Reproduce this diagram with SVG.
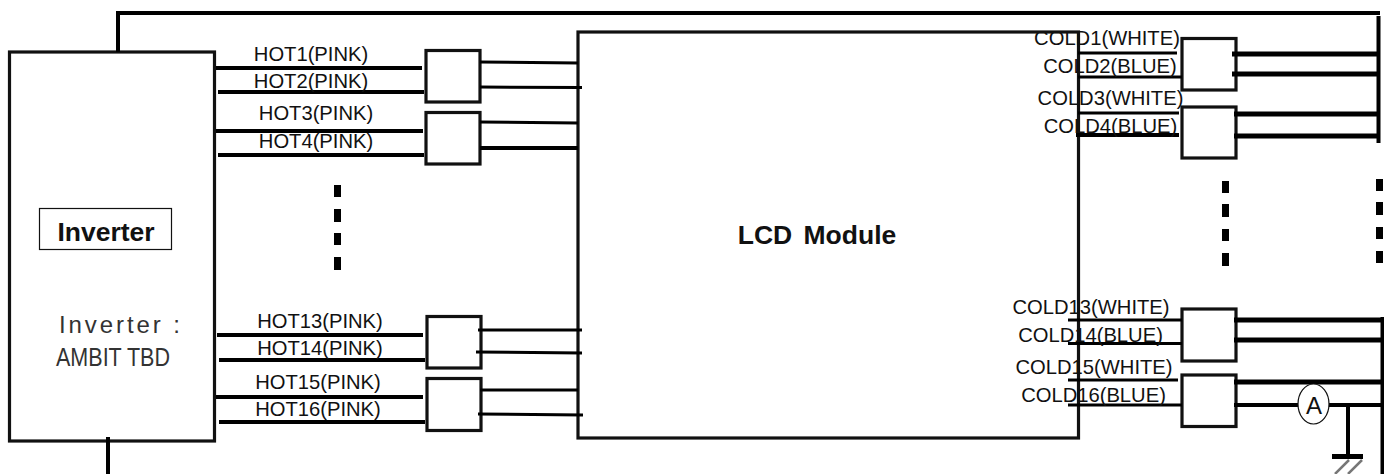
<svg xmlns="http://www.w3.org/2000/svg" width="1384" height="474" viewBox="0 0 1384 474">
<style>
.n{fill:#fff;stroke:#111;stroke-width:3.2}
.w{stroke:#000;stroke-width:3;fill:none}
.h{stroke:#000;stroke-width:4;fill:none}
.x{stroke:#000;stroke-width:5;fill:none}
.t{font-family:"Liberation Sans",Arial,sans-serif;font-size:20.2px;fill:#111;text-anchor:middle}
.b{font-family:"Liberation Sans",Arial,sans-serif;font-size:26.5px;font-weight:bold;fill:#111;text-anchor:middle}
.m{font-family:"Liberation Sans",Arial,sans-serif;fill:#333;text-anchor:start}
.d{fill:#000}
</style>
<g id="inverter">
<rect class="n" x="9.5" y="52" width="205" height="389"/>
<text class="m" x="59" y="333" font-size="24" textLength="121" lengthAdjust="spacing">Inverter :</text>
<text class="m" x="56" y="366" font-size="26" textLength="114" lengthAdjust="spacingAndGlyphs">AMBIT TBD</text>
</g>
<g id="inverter-label">
<rect x="39.500" y="208.500" width="132" height="41" fill="#fff" stroke="#111" stroke-width="1.2"/>
<text class="b" x="106" y="241">Inverter</text>
</g>
<g id="lcd-module">
<rect class="n" x="578" y="32" width="500.500" height="406"/>
<text class="b" x="817" y="243.500" word-spacing="4">LCD Module</text>
</g>
<g id="hot-connector-1"><rect class="n" x="426" y="50.500" width="54" height="51.500"/></g>
<g id="hot-connector-2"><rect class="n" x="426" y="112.500" width="54" height="51.500"/></g>
<g id="hot-connector-3"><rect class="n" x="427" y="316.500" width="54" height="51.500"/></g>
<g id="hot-connector-4"><rect class="n" x="427" y="378.500" width="54" height="52"/></g>
<g id="cold-connector-1"><rect class="n" x="1182" y="38.500" width="54" height="51.500"/></g>
<g id="cold-connector-2"><rect class="n" x="1182" y="107" width="54" height="51"/></g>
<g id="cold-connector-3"><rect class="n" x="1182" y="309" width="54" height="52"/></g>
<g id="cold-connector-4"><rect class="n" x="1182" y="375" width="54" height="51.500"/></g>
<g id="connectors">
<path class="h" d="M1380 13H116M118 13V52"/>
<path class="h" d="M108 437V474"/>
<path class="h" d="M216 68H422M218 92H424M216 131H423M218 155H424"/>
<path class="h" d="M217 335H423M219 360H425M216 397H423M219 422H425"/>
<path class="w" d="M480 62L578 63M480 87L582 87.500M480 122L578 123"/>
<path class="h" d="M480 148H578"/>
<path class="w" d="M478 330H582M476 352L582 353M480 390H578M478 414L583 415"/>
<path class="w" d="M1078 53H1177M1078 77H1182M1078 113H1179"/>
<path class="h" d="M1076 135H1179"/>
<path class="w" d="M1068 320H1182M1068 343.500H1182M1068 380H1178M1068 405H1182"/>
<path class="x" d="M1232 54H1378M1232 74H1378M1234 114H1378M1234 136H1378"/>
<path class="x" d="M1234 320H1382M1234 340H1382M1234 382H1382"/>
<path class="h" d="M1234 405H1298M1329 405H1382M1348 405V456"/>
<path class="x" d="M1332 456.500H1363"/>
<path class="h" d="M1378.500 16V143M1382.500 317V474"/>
<path stroke="#777" stroke-width="2.500" fill="none" d="M1335 474L1349 460M1348 474L1362 460"/>
</g>
<g id="meter-a">
<ellipse cx="1313.500" cy="404" rx="15.500" ry="20" fill="#fff" stroke="#111" stroke-width="1.2"/>
<text class="t" x="1314" y="414" style="font-size:24px">A</text>
</g>
<g id="labels">
<text class="t" x="311" y="61">HOT1(PINK)</text>
<text class="t" x="311" y="88">HOT2(PINK)</text>
<text class="t" x="316" y="119.500">HOT3(PINK)</text>
<text class="t" x="316" y="147.500">HOT4(PINK)</text>
<text class="t" x="320" y="328">HOT13(PINK)</text>
<text class="t" x="320" y="355">HOT14(PINK)</text>
<text class="t" x="318" y="389">HOT15(PINK)</text>
<text class="t" x="318" y="416">HOT16(PINK)</text>
<text class="t" x="1107" y="45">COLD1(WHITE)</text>
<text class="t" x="1110" y="73">COLD2(BLUE)</text>
<text class="t" x="1110.500" y="105">COLD3(WHITE)</text>
<text class="t" x="1110.500" y="133">COLD4(BLUE)</text>
<text class="t" x="1091" y="314">COLD13(WHITE)</text>
<text class="t" x="1090.500" y="342">COLD14(BLUE)</text>
<text class="t" x="1094" y="374">COLD15(WHITE)</text>
<text class="t" x="1093.500" y="402">COLD16(BLUE)</text>
</g>
<g id="ellipsis-marks">
<rect class="d" x="334" y="185" width="7" height="12"/><rect class="d" x="334" y="209" width="7" height="13"/><rect class="d" x="334" y="233" width="7" height="12"/><rect class="d" x="334" y="257" width="7" height="13"/>
<rect class="d" x="1222" y="181" width="7" height="12"/><rect class="d" x="1222" y="204" width="7" height="13"/><rect class="d" x="1222" y="229" width="7" height="12"/><rect class="d" x="1222" y="253" width="7" height="13"/>
<rect class="d" x="1376" y="179" width="7" height="12"/><rect class="d" x="1376" y="202" width="7" height="13"/><rect class="d" x="1376" y="227" width="7" height="12"/><rect class="d" x="1376" y="251" width="7" height="12"/>
</g>
</svg>
